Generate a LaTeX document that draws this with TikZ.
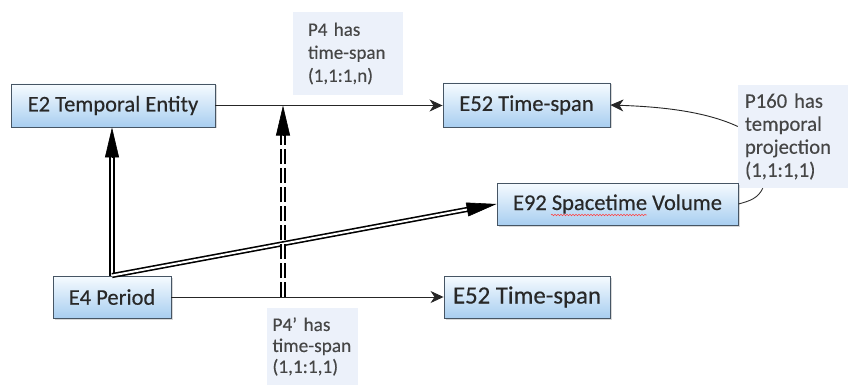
\documentclass[tikz,border=0pt]{standalone}
\usepackage{fontspec}
\setmainfont{Carlito}
\newfontfamily\boxfont{Carlito}[FakeBold=0.35]
\newfontfamily\labfont{Carlito}[FakeBold=0.2]
\usetikzlibrary{arrows.meta,calc,shadows,decorations.pathmorphing}
\definecolor{boxborder}{RGB}{70,85,100}
\definecolor{boxtop}{RGB}{246,251,255}
\definecolor{boxbot}{RGB}{168,206,240}
\definecolor{labelfill}{RGB}{236,241,250}
\definecolor{txtc}{RGB}{40,40,40}
\definecolor{labtxt}{RGB}{70,70,70}
\begin{document}
\begin{tikzpicture}[x=1pt,y=-1pt,
  entity/.style={draw=boxborder, line width=0.9pt, top color=boxtop, bottom color=boxbot,
    text=txtc, inner sep=0pt, font=\boxfont\fontsize{22.5}{27}\selectfont,
    drop shadow={shadow xshift=1.5pt,shadow yshift=-1.5pt,opacity=.3}},
  lab/.style={fill=labelfill, text=labtxt, align=left, inner ysep=0pt, anchor=center},
  thinarrow/.style={draw=black!85, line width=0.9pt, -{Stealth[length=13pt,width=12pt,inset=4pt]}},
  thinline/.style={draw=black!80, line width=0.9pt},
  dbl/.style={draw=black, line width=1.6pt, double=white, double distance=2pt},
  bigtip/.style={draw=black, fill=black, line width=0.6pt, -{Triangle[length=30pt,width=14pt]}}
]
\fill[white] (0,0) rectangle (848,385);
\useasboundingbox (0,0) rectangle (848,385);

% label boxes
\node[lab, minimum width=110pt, minimum height=83pt, text width=80pt, inner xsep=15pt,
  font=\labfont\fontsize{19}{23}\selectfont] (P4) at (348,53.5) {P4 has\\time-span\\(1,1:1,n)};
\node[lab, minimum width=110pt, minimum height=103pt, text width=96pt, inner xsep=7pt,
  font=\labfont\fontsize{20.7}{23}\selectfont] (P160) at (793,136.5) {P160 has\\temporal\\projection\\(1,1:1,1)};
\node[lab, minimum width=91pt, minimum height=77pt, text width=80pt, inner xsep=5.5pt,
  font=\labfont\fontsize{19.3}{21}\selectfont] (P4b) at (312.5,346.5) {P4’ has\\time-span\\(1,1:1,1)};

% entity boxes
\node[entity, minimum width=204pt, minimum height=43pt] (E2) at (113,105.5) {E2 Temporal Entity};
\node[entity, minimum width=167pt, minimum height=44pt] (E52a) at (526.5,105) {E52 Time-span};
\node[entity, minimum width=241pt, minimum height=42pt] (E92) at (617.5,204) {E92 Spacetime Volume};
\node[entity, minimum width=118pt, minimum height=42pt] (E4) at (112,297) {E4 Period};
\node[entity, minimum width=166pt, minimum height=42pt, font=\boxfont\fontsize{24.8}{28}\selectfont] (E52b) at (527,297) {E52 Time-span};

% spell-check squiggle
\draw[red!75, line width=0.6pt, decorate, decoration={snake, amplitude=0.7pt, segment length=3pt}]
  ($(E92.center)+(-66.5,11)$) -- ($(E92.center)+(29,11)$);

% thin connectors
\draw[thinarrow] (E2.east) -- (E2.east -| E52a.west);
\draw[thinarrow] (E4.east) -- (E4.east -| E52b.west);
\draw[thinarrow] ($(P160.west)+(0,-10)$) to[out=155,in=-2,looseness=0.8] (E52a.east);
\draw[thinline] (E92.east) to[out=15,in=-115] ($(P160.south west)+(25,0)$);

% E4 -> E2 (double, solid)
\coordinate (upend) at (E4.north |- E2.south);
\draw[dbl] (E4.north) -- ($(upend)+(0,22)$);
\draw[bigtip] ($(upend)+(0,30)$) -- (upend);

% E4 -> E92 (double, solid)
\draw[dbl] (E4.north) -- ($(E92.west)!22pt!(E4.north)$);
\draw[bigtip] ($(E92.west)!30pt!(E4.north)$) -- (E92.west);

% P4' -> P4 (double, dashed)
\coordinate (mb) at ($(E4.east)!0.41!(E4.east -| E52b.west)$);
\coordinate (mt) at (mb |- E2.east);
\draw[dbl, dash pattern=on 15pt off 4pt] (mb) -- ($(mt)+(0,22)$);
\draw[bigtip] ($(mt)+(0,30)$) -- (mt);
\end{tikzpicture}
\end{document}
